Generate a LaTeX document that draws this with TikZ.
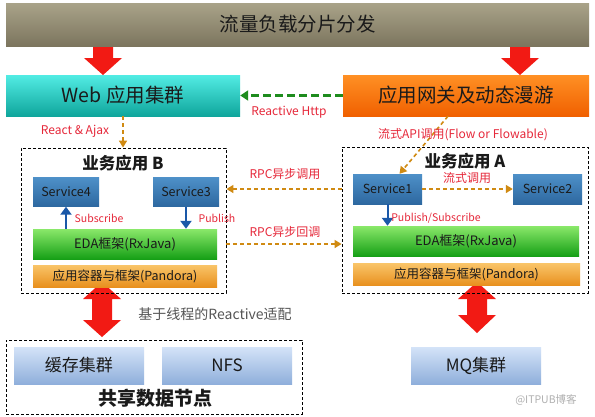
\documentclass[tikz,border=0pt]{standalone}
\usepackage{fontspec}
\setmainfont{Noto Sans CJK SC}
\usetikzlibrary{arrows.meta,calc}
\definecolor{redlbl}{HTML}{E6283A}
\definecolor{darktxt}{HTML}{1A1A1A}
\definecolor{orline}{HTML}{D08A12}
\definecolor{grline}{HTML}{1E8C1E}
\definecolor{blline}{HTML}{1A58A8}
\definecolor{bigred}{HTML}{F21A14}
\definecolor{topA}{HTML}{A9A389}\definecolor{topB}{HTML}{7C755E}
\definecolor{webA}{HTML}{52ECE4}\definecolor{webB}{HTML}{0FA69C}
\definecolor{gwA}{HTML}{FF9024}\definecolor{gwB}{HTML}{F06000}
\definecolor{svcA}{HTML}{4E90C8}\definecolor{svcB}{HTML}{2D68A0}
\definecolor{edaA}{HTML}{8AE86A}\definecolor{edaB}{HTML}{16A016}
\definecolor{panA}{HTML}{F9C468}\definecolor{panB}{HTML}{E8901E}
\definecolor{stA}{HTML}{D4E3F8}\definecolor{stB}{HTML}{8FAFDB}
\definecolor{graytxt}{HTML}{555555}
\definecolor{wmtxt}{HTML}{B0B0B0}
\tikzset{
  base/.style={rectangle, inner sep=0pt, text=darktxt},
  topbar/.style={base, top color=topA, bottom color=topB},
  webbox/.style={base, top color=webA, bottom color=webB},
  gwbox/.style={base, top color=gwA, bottom color=gwB},
  svc/.style={base, top color=svcA, bottom color=svcB, minimum height=29pt, font=\fontsize{12.5}{14}\selectfont},
  eda/.style={base, top color=edaA, bottom color=edaB, minimum height=30pt, font=\fontsize{13}{15}\selectfont},
  pand/.style={base, top color=panA, bottom color=panB, minimum height=22pt, font=\fontsize{12.5}{14}\selectfont},
  store/.style={base, top color=stA, bottom color=stB, minimum width=130pt, minimum height=37pt, font=\fontsize{17}{19}\selectfont},
  group/.style={draw=black, line width=0.9pt, dash pattern=on 3pt off 2pt, inner sep=0pt},
  lbl/.style={text=redlbl, inner sep=0pt, font=\fontsize{12}{14}\selectfont},
  slbl/.style={text=redlbl, inner sep=0pt, font=\fontsize{10.5}{12}\selectfont},
  orarrow/.style={draw=orline, line width=1.6pt, dash pattern=on 4pt off 3pt, -{Triangle[length=7pt,width=8pt]}},
  blarrow/.style={draw=blline, line width=2pt, -{Triangle[length=8pt,width=11pt]}},
  bigarrow/.style={fill=bigred, draw=none},
}
\begin{document}
\begin{tikzpicture}[x=1pt,y=-1pt]
\useasboundingbox (0,0) rectangle (595,416);
\fill[white] (0,0) rectangle (595,416);

% big red arrows (drawn first, partly covered by boxes)
\fill[bigarrow] (93,43) -- (113,43) -- (113,58) -- (122,58) -- (103,75) -- (84,58) -- (93,58) -- cycle;
\fill[bigarrow] (510,43) -- (530,43) -- (530,58) -- (539,58) -- (520,75) -- (501,58) -- (510,58) -- cycle;
\fill[bigarrow] (102,282) -- (121,299) -- (112,299) -- (112,320) -- (121,320) -- (102,337) -- (83,320) -- (92,320) -- (92,299) -- (83,299) -- cycle;
\fill[bigarrow] (477,282) -- (496,299) -- (487,299) -- (487,315) -- (496,315) -- (477,333) -- (458,315) -- (467,315) -- (467,299) -- (458,299) -- cycle;

% top bar
\node[topbar, minimum width=583pt, minimum height=43pt, font=\fontsize{19.5}{22}\selectfont] (top) at (297.5,24.5) {流量负载分片分发};

% web and gateway
\node[webbox, minimum width=234pt, minimum height=41pt, font=\fontsize{19.5}{22}\selectfont] (web) at (123,95.5) {Web 应用集群};
\node[gwbox, minimum width=246pt, minimum height=41pt, font=\fontsize{19.5}{22}\selectfont] (gw) at (466,95.5) {应用网关及动态漫游};

% group boxes
\node[group, minimum width=205pt, minimum height=145pt] (grpB) at (123.5,220.5) {};
\node[group, minimum width=246pt, minimum height=146pt] (grpA) at (465,220) {};
\node[group, minimum width=296pt, minimum height=74pt] (grpS) at (154,377) {};

\node[inner sep=0pt, font=\bfseries\fontsize{16.5}{18}\selectfont, text=darktxt] (titleB) at (123,163) {业务应用 B};
\node[inner sep=0pt, font=\bfseries\fontsize{16.5}{18}\selectfont, text=darktxt] (titleA) at (465,161) {业务应用 A};

% services B
\node[svc, minimum width=66pt] (s4) at (66,192) {Service4};
\node[svc, minimum width=66pt] (s3) at (186,192) {Service3};
\node[eda, minimum width=184pt] (edaB) at (125,244) {EDA框架(RxJava)};
\node[pand, minimum width=184pt] (pandB) at (125,276) {应用容器与框架(Pandora)};

% services A
\node[svc, minimum width=69pt, minimum height=30pt] (s1) at (387.5,189) {Service1};
\node[svc, minimum width=69pt, minimum height=30pt] (s2) at (547.5,189) {Service2};
\node[eda, minimum width=226pt] (edaA) at (466,241) {EDA框架(RxJava)};
\node[pand, minimum width=227pt] (pandA) at (466.5,274.5) {应用容器与框架(Pandora)};

% storage
\node[store] (cache) at (79,365.5) {缓存集群};
\node[store] (nfs) at (227,365.5) {NFS};
\node[store] (mq) at (476,365.5) {MQ集群};
\node[inner sep=0pt, font=\bfseries\fontsize{19}{22}\selectfont, text=darktxt] (titleS) at (155,398) {共享数据节点};

% connectors
\draw[draw=grline, line width=2.6pt, dash pattern=on 8pt off 4pt, -{Triangle[length=8pt,width=10pt]}] (gw.west) -- (web.east);
\node[lbl] (lReactive) at (289,112) {Reactive Http};

\draw[orarrow] (web.south) -- (grpB.north -| web.south);
\node[lbl] (lAjax) at (75,131) {React \& Ajax};

\coordinate (gwOut) at ($(gw.south)+(-18,0)$);
\coordinate (s1In) at ($(s1.north)+(12,0)$);
\draw[orarrow] (gwOut) -- (s1In);
\node[lbl] (lFlow) at (463,135) {流式API调用(Flow or Flowable)};

\draw[orarrow] (s1.east) -- (s2.west);
\node[lbl] (lStream) at (467,178) {流式调用};

\draw[orarrow] (grpA.west |- s1) -- (grpB.east |- s1);
\node[lbl] (lRpc1) at (285,174) {RPC异步调用};
\draw[orarrow] (grpB.east |- edaB) -- (grpA.west |- edaB);
\node[lbl] (lRpc2) at (285,232) {RPC异步回调};

\draw[blarrow] (edaB.north -| s4) -- (s4.south);
\node[slbl] (lSub) at (99,218) {Subscribe};
\draw[blarrow] (s3.south) -- (edaB.north -| s3);
\node[slbl] (lPub) at (217,218) {Publish};
\draw[blarrow] (s1.south) -- (edaA.north -| s1);
\node[slbl] (lPubSub) at (436,218) {Publish/Subscribe};

\node[inner sep=0pt, text=graytxt, font=\fontsize{14}{16}\selectfont] (lThread) at (215,314) {基于线程的Reactive适配};
\node[inner sep=0pt, text=wmtxt, font=\fontsize{10.5}{12}\selectfont] (wm) at (546,400) {@ITPUB博客};
\end{tikzpicture}
\end{document}
